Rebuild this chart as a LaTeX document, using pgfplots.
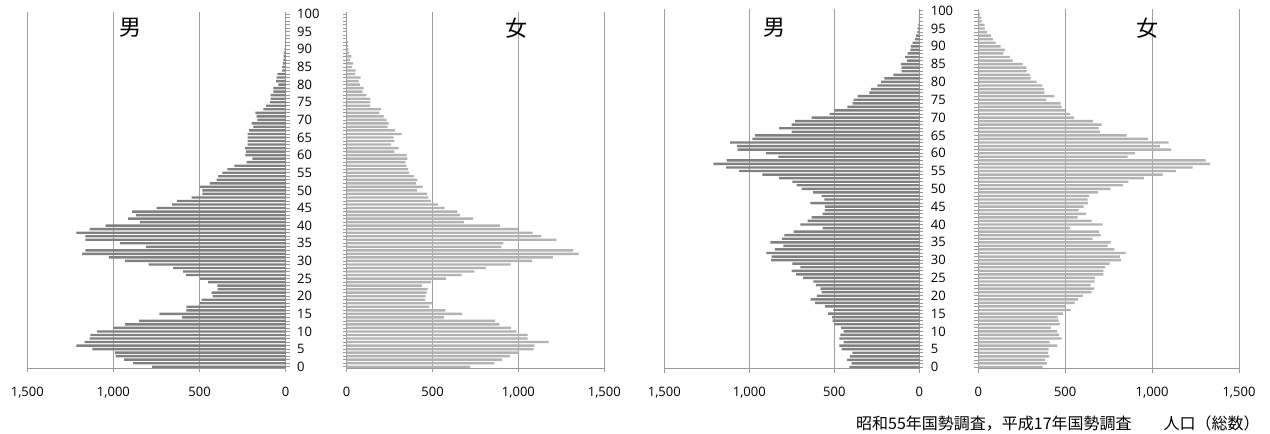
\documentclass[border=0pt]{standalone}
\usepackage{fontspec}
\setmainfont{Open Sans}
\newfontfamily\cjk{Noto Sans CJK JP}
\usepackage{pgfplots}
\usepackage{pgfplotstable}
\pgfplotsset{compat=1.18}

% population by single year of age: 1980 (m80, f80) and 2005 (m05, f05)
\pgfplotstableread{
age m80 f80 m05 f05
0 775 719 412 370
1 886 860 398 395
2 938 903 425 384
3 988 950 408 409
4 992 1004 394 401
5 1122 1089 457 405
6 1215 1093 470 455
7 1167 1176 445 410
8 1138 1054 470 480
9 1134 1054 464 464
10 1095 988 445 453
11 1000 957 460 418
12 934 889 498 470
13 851 864 510 462
14 601 566 515 456
15 734 672 537 487
16 576 574 506 531
17 576 482 555 499
18 498 496 613 554
19 488 457 639 573
20 424 459 602 602
21 430 465 574 652
22 395 471 580 667
23 397 438 608 646
24 450 492 623 669
25 498 578 684 671
26 579 669 725 719
27 595 744 751 719
28 653 810 700 731
29 795 954 747 756
30 932 1080 872 821
31 1027 1200 868 815
32 1182 1351 900 848
33 1163 1318 849 783
34 812 901 800 744
35 963 913 876 761
36 1163 1221 809 658
37 1163 1134 794 704
38 1215 1083 739 694
39 1138 1000 568 529
40 1046 892 700 715
41 847 684 657 652
42 915 736 633 572
43 870 659 568 621
44 891 645 555 577
45 750 570 555 606
46 659 533 641 631
47 630 490 559 629
48 546 475 574 637
49 483 467 625 690
50 483 409 692 762
51 498 442 721 832
52 440 403 747 863
53 401 411 825 953
54 393 391 923 1061
55 368 364 1060 1137
56 339 357 1137 1233
57 298 347 1211 1333
58 227 341 1133 1308
59 194 353 829 859
60 234 349 902 901
61 231 277 1068 1109
62 236 302 1072 1045
63 221 258 1113 1095
64 221 277 982 976
65 221 273 966 853
66 221 320 751 700
67 213 281 825 692
68 188 238 751 710
69 198 244 731 660
70 165 233 633 552
71 169 215 527 529
72 176 190 498 499
73 130 200 423 480
74 114 136 392 474
75 91 138 386 391
76 87 138 363 437
77 87 114 294 380
78 72 93 284 378
79 72 99 247 368
80 43 76 225 336
81 56 70 206 301
82 52 81 153 297
83 48 50 104 278
84 21 52 104 276
85 21 31 108 255
86 17 37 71 198
87 14 19 84 182
88 12 27 69 144
89 10 12 53 153
90 6 10 49 129
91 4 10 39 100
92 3 8 25 84
93 2 3 20 73
94 1 2 12 50
95 1 1 10 38
96 0 1 6 36
97 0 0 3 19
98 0 0 2 17
99 0 0 1 10
100 0 0 1 4
}\pop

\definecolor{malebar}{HTML}{808080}
\definecolor{femalebar}{HTML}{B2B2B2}

\pgfplotsset{
  pyr/.style={
    scale only axis,
    anchor=south west,
    ymin=-0.5, ymax=100.5,
    xmajorgrids,
    grid style={gray!75, line width=0.9pt},
    axis line style={gray!80, line width=0.9pt, -},
    tick style={gray!80, line width=0.7pt},
    tick align=outside,
    major tick length=4pt,
    minor tick length=4pt,
    ytick={0,5,...,100},
    minor y tick num=4,
    axis x line*=bottom,
    tick label style={font=\fontsize{13}{15}\selectfont},
    xticklabel style={yshift=-11pt},
    /pgf/number format/assume math mode=true,
  },
  male/.style={pyr,
    xmin=-1500, xmax=0,
    xtick={-1500,-1000,-500,0},
    xticklabels={1{,}500,1{,}000,500,0},
    axis y line*=right,
    yticklabel style={anchor=west, xshift=4pt},
  },
  female/.style={pyr,
    xmin=0, xmax=1500,
    xtick={0,500,1000,1500},
    xticklabels={0,500,1{,}000,1{,}500},
    axis y line*=left,
    yticklabels={},
  },
  malebars/.style={xbar, bar width=0.68, bar shift=0pt, fill=malebar, draw=none},
  femalebars/.style={xbar, bar width=0.68, bar shift=0pt, fill=femalebar, draw=none},
}

\begin{document}
\begin{tikzpicture}
\path[use as bounding box] (0,0) rectangle (1270pt,434pt);

% 1980
\begin{axis}[male, at={(27.3pt,65.5pt)}, width=258.4pt, height=356.2pt]
  \addplot[malebars] table[x expr=-\thisrow{m80}, y=age] {\pop};
\end{axis}
\begin{axis}[female, at={(346.7pt,65.5pt)}, width=257.6pt, height=356.2pt]
  \addplot[femalebars] table[x=f80, y=age] {\pop};
\end{axis}

% 2005
\begin{axis}[male, at={(664.3pt,65.2pt)}, width=255pt, height=359.9pt]
  \addplot[malebars] table[x expr=-\thisrow{m05}, y=age] {\pop};
\end{axis}
\begin{axis}[female, at={(978.3pt,65.2pt)}, width=260.7pt, height=359.9pt]
  \addplot[femalebars] table[x=f05, y=age] {\pop};
\end{axis}

\begin{scope}[every node/.style={font=\cjk\fontsize{22}{22}\selectfont, inner sep=0pt}]
  \node at (130pt,406pt) {男};
  \node at (516pt,406pt) {女};
  \node at (774pt,406pt) {男};
  \node at (1147pt,406pt) {女};
\end{scope}

\node[anchor=west, inner sep=0pt, font=\cjk\fontsize{16}{16}\selectfont]
  at (856pt,10pt) {昭和55年国勢調査，平成17年国勢調査　　人口（総数）};
\end{tikzpicture}
\end{document}
